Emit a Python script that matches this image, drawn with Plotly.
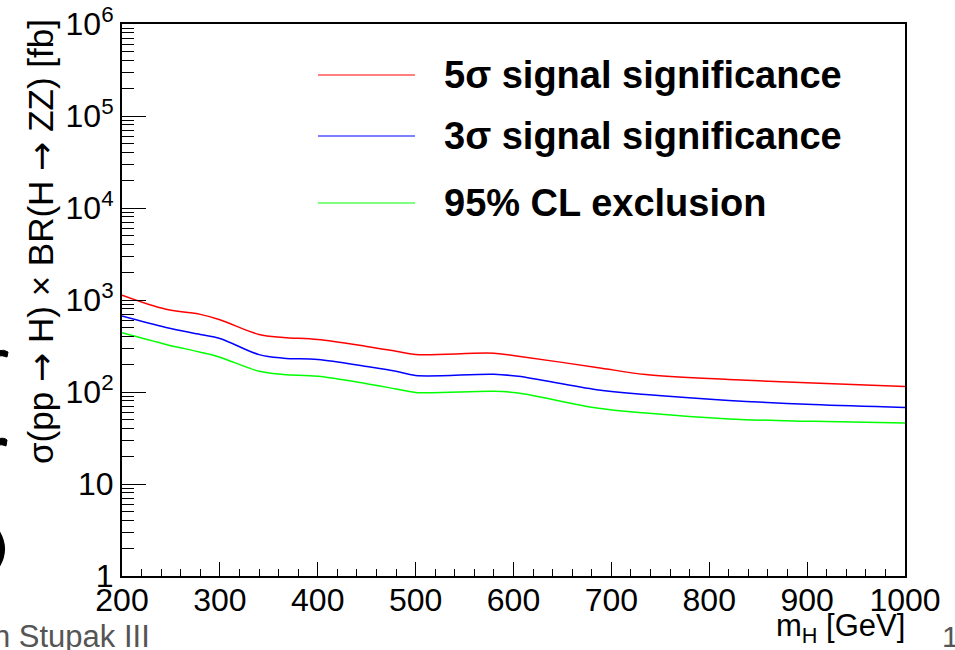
import plotly.graph_objects as go

# ---- data ----
mass = [200, 245, 280, 300, 340, 365, 400, 450, 480, 500, 580, 605, 685, 735, 820, 906, 1000]
sig5 = [1126, 792, 698, 610, 422, 392, 372, 313, 278, 256, 264, 245, 185, 155, 137, 125, 115]
sig3 = [669, 503, 422, 382, 255, 233, 225, 189, 168, 151, 156, 148, 106, 94, 81, 73, 68]
excl = [440, 329, 271, 239, 168, 155, 148, 123, 108, 99, 102, 97.5, 67, 59, 51, 48, 46]

series_names = ["5\u03c3 signal significance", "3\u03c3 signal significance", "95% CL exclusion"]
series_vals = [sig5, sig3, excl]
series_cols = ["#ff0000", "#0000ff", "#00ff00"]

ytick_vals = [1, 10, 100, 1000, 10000, 100000, 1000000]
ytick_text = ["1", "10", "10<sup>2</sup>", "10<sup>3</sup>", "10<sup>4</sup>", "10<sup>5</sup>", "10<sup>6</sup>"]
xtick_vals = [200, 300, 400, 500, 600, 700, 800, 900, 1000]

FONT = "Liberation Sans, Arial, Helvetica, sans-serif"

# plot area in pixels
W, H = 955, 650
L, R, T, B = 122, 50, 24, 74
PW, PH = W - L - R, H - T - B

def px(xp):
    return (xp - L) / PW

def py(yp):
    return (H - B - yp) / PH

fig = go.Figure()
for name, vals, col in zip(series_names, series_vals, series_cols):
    fig.add_trace(go.Scatter(x=mass, y=vals, mode="lines", name=name,
                             line=dict(color=col, width=1.5, shape="spline", smoothing=1.0),
                             showlegend=False))

minor_y = [m * 10 ** e for e in range(0, 6) for m in range(2, 10)]

fig.update_layout(
    width=W, height=H,
    margin=dict(l=L, r=R, t=T, b=B, pad=0, autoexpand=False),
    paper_bgcolor="white", plot_bgcolor="white",
    font=dict(family=FONT, color="black"),
    xaxis=dict(range=[200, 1000], tickvals=xtick_vals, ticks="inside", ticklen=14,
               tickwidth=1, tickcolor="black", showgrid=False, zeroline=False,
               showline=True, linecolor="black", linewidth=2, mirror=True,
               automargin=False, ticklabelstandoff=-5,
               tickfont=dict(size=32, family=FONT),
               minor=dict(dtick=20, ticks="inside", ticklen=7, tickcolor="black", tickwidth=1, showgrid=False)),
    yaxis=dict(type="log", range=[0, 6], tickvals=ytick_vals, ticktext=ytick_text,
               ticks="inside", ticklen=24, tickwidth=1, tickcolor="black",
               showgrid=False, zeroline=False, showline=True, linecolor="black",
               linewidth=2, mirror=True, automargin=False, tickfont=dict(size=32, family=FONT),
               minor=dict(tickvals=minor_y, ticks="inside", ticklen=12, tickcolor="black",
                          tickwidth=1, showgrid=False)),
)

annotations = []
shapes = []

# legend (manual, to match the long ROOT-style sample lines)
leg_y = [75, 136, 203]
for name, col, yy in zip(series_names, series_cols, leg_y):
    shapes.append(dict(type="line", xref="paper", yref="paper",
                       x0=px(318), x1=px(415), y0=py(yy), y1=py(yy),
                       line=dict(color=col, width=1.2)))
    annotations.append(dict(xref="paper", yref="paper", x=px(442), y=py(yy),
                            xanchor="left", yanchor="middle", showarrow=False,
                            text="<b>" + name + "</b>",
                            font=dict(size=38, family=FONT, color="black")))

# axis titles
ARROW = "<span style=\"font-family:DejaVu Sans\">\u2192</span>"
annotations.append(dict(xref="paper", yref="paper", x=px(41), y=py(242),
                        xanchor="center", yanchor="middle", showarrow=False, textangle=-90,
                        text="\u03c3(pp " + ARROW + " H) \u00d7 BR(H " + ARROW + " ZZ) [fb]",
                        font=dict(size=35, family=FONT, color="black")))
annotations.append(dict(xref="paper", yref="paper", x=px(907), y=py(628),
                        xanchor="right", yanchor="middle", showarrow=False,
                        text="m<sub>H</sub> [GeV]",
                        font=dict(size=31, family=FONT, color="black")))

# slide remnants
annotations.append(dict(xref="paper", yref="paper", x=px(152), y=py(636),
                        xanchor="right", yanchor="middle", showarrow=False,
                        text="John Stupak III",
                        font=dict(size=31, family=FONT, color="#555555")))
annotations.append(dict(xref="paper", yref="paper", x=px(940), y=py(636),
                        xanchor="left", yanchor="middle", showarrow=False,
                        text="1",
                        font=dict(size=30, family=FONT, color="#555555")))

shapes.append(dict(type="path", xref="paper", yref="paper",
                   path=f"M {px(-2)} {py(351)} Q {px(4)} {py(349)} {px(8)} {py(352)} L {px(7)} {py(357)} Q {px(2)} {py(355)} {px(-2)} {py(356)} Z",
                   fillcolor="black", line=dict(color="black", width=1)))
shapes.append(dict(type="path", xref="paper", yref="paper",
                   path=f"M {px(-2)} {py(439)} Q {px(4)} {py(437)} {px(7)} {py(440)} L {px(6)} {py(446)} Q {px(2)} {py(444)} {px(-2)} {py(445)} Z",
                   fillcolor="black", line=dict(color="black", width=1)))
shapes.append(dict(type="path", xref="paper", yref="paper",
                   path=f"M {px(-6)} {py(527)} Q {px(11)} {py(549)} {px(-6)} {py(571)}",
                   line=dict(color="black", width=5)))

fig.update_layout(annotations=annotations, shapes=shapes)

fig.write_html("out.html")
